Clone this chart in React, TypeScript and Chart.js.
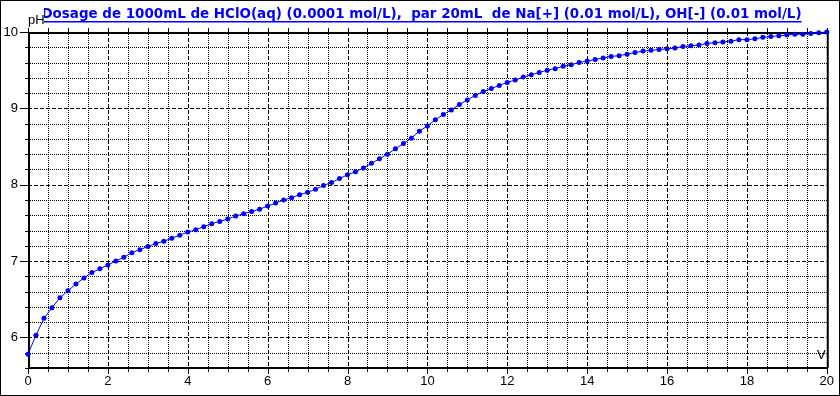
import React, { useEffect, useRef } from "react";
import { Chart, registerables } from "chart.js";

Chart.register(...registerables);

const TITLE =
  "Dosage de 1000mL de HClO(aq) (0.0001 mol/L),  par 20mL  de Na[+] (0.01 mol/L), OH[-] (0.01 mol/L)";
const X_LABEL = "V";
const Y_LABEL = "pH";

const volumes = [
  0, 0.2, 0.4, 0.6, 0.8, 1, 1.2, 1.4, 1.6, 1.8,
  2, 2.2, 2.4, 2.6, 2.8, 3, 3.2, 3.4, 3.6, 3.8,
  4, 4.2, 4.4, 4.6, 4.8, 5, 5.2, 5.4, 5.6, 5.8,
  6, 6.2, 6.4, 6.6, 6.8, 7, 7.2, 7.4, 7.6, 7.8,
  8, 8.2, 8.4, 8.6, 8.8, 9, 9.2, 9.4, 9.6, 9.8,
  10, 10.2, 10.4, 10.6, 10.8, 11, 11.2, 11.4, 11.6, 11.8,
  12, 12.2, 12.4, 12.6, 12.8, 13, 13.2, 13.4, 13.6, 13.8,
  14, 14.2, 14.4, 14.6, 14.8, 15, 15.2, 15.4, 15.6, 15.8,
  16, 16.2, 16.4, 16.6, 16.8, 17, 17.2, 17.4, 17.6, 17.8,
  18, 18.2, 18.4, 18.6, 18.8, 19, 19.2, 19.4, 19.6, 19.8,
  20,
];

const phValues = [
  5.78, 6.03, 6.25, 6.39, 6.52, 6.61, 6.70, 6.78, 6.85, 6.90,
  6.95, 7.00, 7.05, 7.11, 7.15, 7.19, 7.23, 7.26, 7.30, 7.34,
  7.38, 7.41, 7.45, 7.49, 7.52, 7.55, 7.59, 7.62, 7.65, 7.68,
  7.72, 7.76, 7.80, 7.83, 7.87, 7.90, 7.94, 7.99, 8.03, 8.08,
  8.13, 8.17, 8.22, 8.28, 8.34, 8.40, 8.47, 8.54, 8.61, 8.70,
  8.77, 8.85, 8.92, 8.98, 9.05, 9.11, 9.17, 9.22, 9.26, 9.30,
  9.34, 9.37, 9.41, 9.44, 9.47, 9.50, 9.52, 9.55, 9.57, 9.60,
  9.62, 9.64, 9.66, 9.68, 9.69, 9.71, 9.73, 9.75, 9.76, 9.77,
  9.78, 9.79, 9.81, 9.82, 9.83, 9.85, 9.86, 9.87, 9.88, 9.90,
  9.90, 9.91, 9.93, 9.94, 9.95, 9.96, 9.97, 9.97, 9.98, 9.99,
  10.00,
];

const X_MIN = 0;
const X_MAX = 20;
const X_MAJOR = 2;
const X_MINOR = 0.5;
const Y_MIN = 5.6;
const Y_MAX = 10;
const Y_MAJOR = 1;
const Y_MINOR = 0.2;

const isMultiple = (v: number, step: number) =>
  Math.abs(v / step - Math.round(v / step)) < 1e-6;

const backgroundPlugin = {
  id: "bg",
  beforeDraw(chart: any) {
    const ctx = chart.ctx;
    ctx.save();
    ctx.fillStyle = "#ffffff";
    ctx.fillRect(0, 0, chart.width, chart.height);
    ctx.restore();
  },
};

const gridPlugin = {
  id: "customGrid",
  beforeDatasetsDraw(chart: any) {
    const { ctx, chartArea, scales } = chart;
    const { left, right, top, bottom } = chartArea;
    const xs = scales.x;
    const ys = scales.y;
    ctx.save();
    ctx.strokeStyle = "#000000";
    ctx.lineWidth = 1;
    // vertical grid lines
    const nX = Math.round((X_MAX - X_MIN) / X_MINOR);
    for (let i = 0; i <= nX; i++) {
      const v = X_MIN + i * X_MINOR;
      const major = isMultiple(v, X_MAJOR);
      const px = Math.round(xs.getPixelForValue(v)) + 0.5;
      if (i > 0 && i < nX) {
        ctx.setLineDash(major ? [4, 2] : [1, 1]);
        ctx.beginPath();
        ctx.moveTo(px, top);
        ctx.lineTo(px, bottom);
        ctx.stroke();
      }
      ctx.setLineDash([]);
      ctx.beginPath();
      ctx.moveTo(px, top - 4);
      ctx.lineTo(px, top);
      ctx.moveTo(px, bottom);
      ctx.lineTo(px, bottom + (major ? 6 : 4));
      ctx.stroke();
    }
    // horizontal grid lines
    const nY = Math.round((Y_MAX - Y_MIN) / Y_MINOR);
    for (let i = 0; i <= nY; i++) {
      const v = Y_MIN + i * Y_MINOR;
      const major = isMultiple(v, Y_MAJOR);
      const py = Math.round(ys.getPixelForValue(v)) + 0.5;
      if (i > 0 && i < nY) {
        ctx.setLineDash(major ? [4, 2] : [1, 1]);
        ctx.beginPath();
        ctx.moveTo(left, py);
        ctx.lineTo(right, py);
        ctx.stroke();
      }
      ctx.setLineDash([]);
      ctx.beginPath();
      ctx.moveTo(left - (major ? 8 : 3), py);
      ctx.lineTo(left, py);
      ctx.stroke();
    }
    // frame
    ctx.setLineDash([]);
    ctx.lineWidth = 2;
    ctx.beginPath();
    ctx.moveTo(left + 1, top - 0);
    ctx.lineTo(left + 1, bottom);
    ctx.moveTo(left, bottom);
    ctx.lineTo(right + 1, bottom);
    ctx.moveTo(left, top + 1);
    ctx.lineTo(right + 1, top + 1);
    ctx.moveTo(right + 1, top);
    ctx.lineTo(right + 1, bottom);
    ctx.stroke();
    ctx.restore();
  },
};

const textPlugin = {
  id: "texts",
  afterDraw(chart: any) {
    const { ctx, chartArea } = chart;
    ctx.save();
    // title
    const family = '"DejaVu Sans Condensed", "DejaVu Sans", sans-serif';
    let size = 14;
    ctx.font = `bold ${size}px ${family}`;
    const w0 = ctx.measureText(TITLE).width;
    const targetW = 761;
    size = (size * targetW) / w0;
    ctx.font = `bold ${size}px ${family}`;
    const w = ctx.measureText(TITLE).width;
    const cx = 421.5;
    ctx.fillStyle = "#0000ff";
    ctx.textAlign = "center";
    ctx.textBaseline = "alphabetic";
    ctx.fillText(TITLE, cx, 17.5);
    ctx.fillRect(cx - w / 2, 21, w, 1.5);
    // y label with white backing
    ctx.fillStyle = "#ffffff";
    ctx.fillRect(chartArea.left - 1, 6, 17, 20);
    ctx.fillStyle = "#000000";
    ctx.font = '13px "Liberation Sans", Arial, sans-serif';
    ctx.textAlign = "left";
    ctx.fillText(Y_LABEL, chartArea.left, 24);
    // x label
    ctx.textAlign = "right";
    ctx.fillText(X_LABEL, chartArea.right - 1, 359);
    // outer border
    ctx.strokeStyle = "#000000";
    ctx.lineWidth = 1;
    ctx.strokeRect(0.5, 0.5, chart.width - 1, chart.height - 1);
    ctx.restore();
  },
};

export default function App() {
  const ref = useRef<HTMLCanvasElement>(null);
  useEffect(() => {
    document.body.style.margin = "0";
    const canvas = ref.current;
    if (!canvas) return;
    const points = volumes.map((v, i) => ({ x: v, y: phValues[i] }));
    const tickFont = { family: '"Liberation Sans", Arial, sans-serif', size: 13 };
    const chart = new Chart(canvas, {
      type: "line",
      data: {
        datasets: [
          {
            label: "pH",
            data: points,
            borderColor: "#0000ff",
            backgroundColor: "#0000ff",
            borderWidth: 1,
            pointRadius: 2.5,
            pointBorderWidth: 0,
            pointBackgroundColor: "#0000ff",
            pointStyle: "circle",
            tension: 0,
            clip: 6,
          } as any,
        ],
      },
      options: {
        animation: false,
        responsive: false,
        devicePixelRatio: 1,
        layout: { padding: { left: 0, top: 32, right: 12, bottom: 0 } },
        plugins: {
          legend: { display: false },
          title: { display: false },
          tooltip: { enabled: false },
        },
        scales: {
          x: {
            type: "linear",
            min: X_MIN,
            max: X_MAX,
            grid: { display: false, drawTicks: false },
            border: { display: false },
            ticks: {
              stepSize: X_MAJOR,
              padding: 6,
              color: "#000000",
              font: tickFont,
              maxRotation: 0,
              autoSkip: false,
              callback: (v: any) => String(v),
            },
            afterFit: (s: any) => {
              s.height = 28;
            },
          },
          y: {
            type: "linear",
            min: Y_MIN,
            max: Y_MAX,
            grid: { display: false, drawTicks: false },
            border: { display: false },
            ticks: {
              stepSize: Y_MAJOR,
              padding: 10,
              color: "#000000",
              font: tickFont,
              autoSkip: false,
              callback: (v: any) => (isMultiple(Number(v), Y_MAJOR) ? String(Math.round(Number(v))) : ""),
            },
            afterFit: (s: any) => {
              s.width = 28;
            },
          },
        },
      },
      plugins: [backgroundPlugin, gridPlugin, textPlugin],
    });
    return () => chart.destroy();
  }, []);
  return (
    <div style={{ position: "fixed", left: 0, top: 0, width: 840, height: 396 }}>
      <canvas ref={ref} width={840} height={396} style={{ display: "block", width: 840, height: 396 }} />
    </div>
  );
}
